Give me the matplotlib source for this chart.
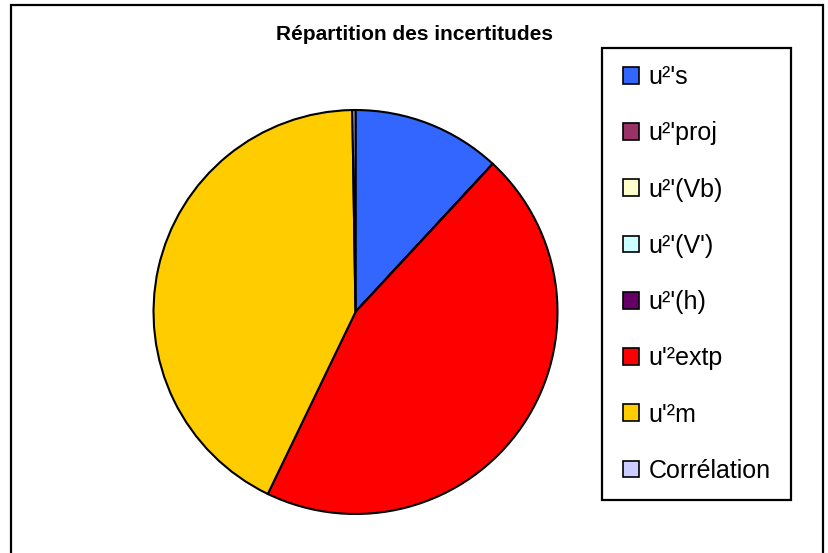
import matplotlib
matplotlib.use("Agg")
import matplotlib.pyplot as plt
from matplotlib.patches import Rectangle

title = "Répartition des incertitudes"
labels = ["u²'s", "u²'proj", "u²'(Vb)", "u²'(V')", "u²'(h)", "u'²extp", "u'²m", "Corrélation"]
values = [11.9, 0.0, 0.0, 0.0, 0.0, 45.25, 42.6, 0.25]
colors = ["#3366FF", "#993366", "#FFFFCC", "#CCFFFF", "#660066", "#FF0000", "#FFCC00", "#CCCCFF"]

W, H = 829, 553
fig = plt.figure(figsize=(W / 100, H / 100), dpi=100)
fig.patch.set_facecolor("white")

# outer chart frame
fig.patches.append(Rectangle((11 / W, -0.05), (823 - 11) / W, (H - 5) / H + 0.05,
                             transform=fig.transFigure, fill=False,
                             edgecolor="black", linewidth=1.6))
# legend frame
fig.patches.append(Rectangle((602 / W, 1 - 500 / H), (791 - 602) / W, (500 - 48) / H,
                             transform=fig.transFigure, fill=False,
                             edgecolor="black", linewidth=1.6))

cx, cy, r = 355.5, 312, 204
ax = fig.add_axes([(cx - r) / W, (H - cy - r) / H, 2 * r / W, 2 * r / H])
wedges, _ = ax.pie(values, colors=colors, startangle=90, counterclock=False,
                   radius=1.0,
                   wedgeprops=dict(edgecolor="black", linewidth=1.5))
ax.set_xlim(-1.01, 1.01)
ax.set_ylim(-1.01, 1.01)
ax.set_aspect("equal")
ax.axis("off")

fig.text(415 / W, 1 - 35 / H, title, ha="center", va="center",
         fontsize=15, fontweight="bold",
         family=["Liberation Sans Narrow", "Liberation Sans", "DejaVu Sans"])

leg = fig.legend(wedges, labels, loc="upper left",
                 bbox_to_anchor=(606 / W, 1 - 48 / H),
                 frameon=False,
                 prop={"family": "Liberation Sans", "size": 18},
                 handlelength=0.65, handleheight=0.65, handletextpad=0.36,
                 labelspacing=1.29, borderpad=0.68, borderaxespad=0)
for h in leg.legend_handles:
    h.set_edgecolor("black")
    h.set_linewidth(1.2)

fig.savefig("out.png", dpi=100, facecolor="white")
